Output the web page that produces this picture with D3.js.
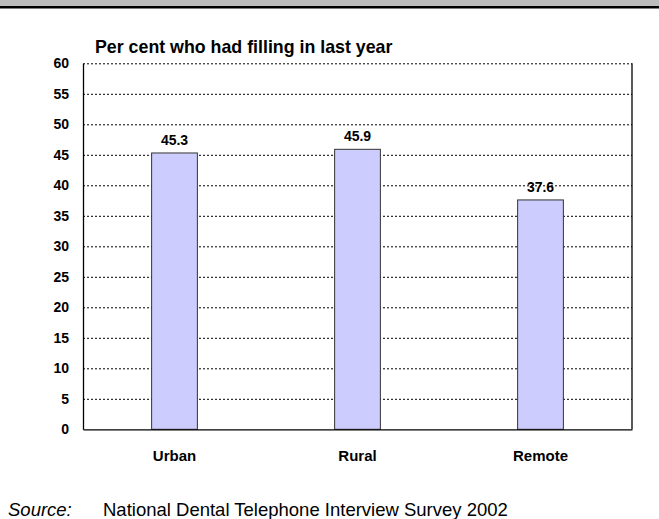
<!DOCTYPE html>
<html><head><meta charset="utf-8">
<script src="https://cdn.jsdelivr.net/npm/d3@7"></script>
<style>html,body{margin:0;padding:0;background:#fff;}svg{display:block;}</style>
</head><body>
<script>
const categories = ["Urban", "Rural", "Remote"];
const values = [45.3, 45.9, 37.6];
const yTicks = [0, 5, 10, 15, 20, 25, 30, 35, 40, 45, 50, 55, 60];
const title = "Per cent who had filling in last year";
const sourceLabel = "Source:";
const sourceText = "National Dental Telephone Interview Survey 2002";

const W = 659, H = 519;
const m = {left: 83, right: 27, top: 63.3, bottom: 89.7};
const svg = d3.select("body").append("svg").attr("width", W).attr("height", H);
const font = "Arial, 'Liberation Sans', sans-serif";

// top band
svg.append("rect").attr("x", 0).attr("y", 0).attr("width", W).attr("height", 6).attr("fill", "#bdbdbd");
svg.append("rect").attr("x", 0).attr("y", 6).attr("width", W).attr("height", 2.5).attr("fill", "#000");

const x = d3.scaleBand().domain(categories).range([m.left, W - m.right]);
const y = d3.scaleLinear().domain([0, 60]).range([H - m.bottom, m.top]);

// gridlines
const g = svg.append("g").attr("transform", `translate(${m.left},0)`)
  .call(d3.axisLeft(y).tickValues(yTicks.filter(t => t > 0)).tickSize(-(W - m.left - m.right)).tickFormat(""));
g.select(".domain").remove();
g.selectAll("line").attr("stroke", "#000").attr("stroke-dasharray", "2,2").attr("stroke-width", 1);

// right border
svg.append("line").attr("x1", W - m.right).attr("x2", W - m.right).attr("y1", y(60)).attr("y2", y(0)).attr("stroke", "#000").attr("stroke-width", 1.3);

// bars
const bw = x.bandwidth() * 0.25;
svg.selectAll("rect.bar").data(values).join("rect").attr("class", "bar")
  .attr("x", (d, i) => x(categories[i]) + x.bandwidth() / 2 - bw / 2)
  .attr("y", d => y(d)).attr("width", bw).attr("height", d => y(0) - y(d))
  .attr("fill", "#ccccff").attr("stroke", "#333").attr("stroke-width", 1);

// value labels
svg.selectAll("text.val").data(values).join("text").attr("class", "val")
  .attr("x", (d, i) => x(categories[i]) + x.bandwidth() / 2)
  .attr("y", d => y(d) - 8).attr("text-anchor", "middle")
  .attr("font-family", font).attr("font-weight", "bold").attr("font-size", 14)
  .text(d => d.toFixed(1));

// y axis
const ya = svg.append("g").attr("transform", `translate(${m.left},0)`)
  .call(d3.axisLeft(y).tickValues(yTicks).tickSize(0).tickPadding(14));
ya.select(".domain").attr("stroke", "#000").attr("stroke-width", 1.3);
ya.selectAll("text").attr("font-family", font).attr("font-weight", "bold").attr("font-size", 14).attr("fill", "#000");

// x axis
const xa = svg.append("g").attr("transform", `translate(0,${y(0)})`)
  .call(d3.axisBottom(x).tickSize(0).tickPadding(21));
xa.select(".domain").attr("stroke", "#000").attr("stroke-width", 1.3);
xa.selectAll("text").attr("font-family", font).attr("font-weight", "bold").attr("font-size", 15).attr("fill", "#000");

// title
svg.append("text").attr("x", 95).attr("y", 52.5).attr("font-family", font).attr("font-weight", "bold")
  .attr("font-size", 17.8).text(title);

// source
svg.append("text").attr("x", 8).attr("y", 516).attr("font-family", font).attr("font-style", "italic")
  .attr("font-size", 18.5).text(sourceLabel);
svg.append("text").attr("x", 103).attr("y", 516).attr("font-family", font)
  .attr("font-size", 18.5).text(sourceText);
</script>
</body></html>
